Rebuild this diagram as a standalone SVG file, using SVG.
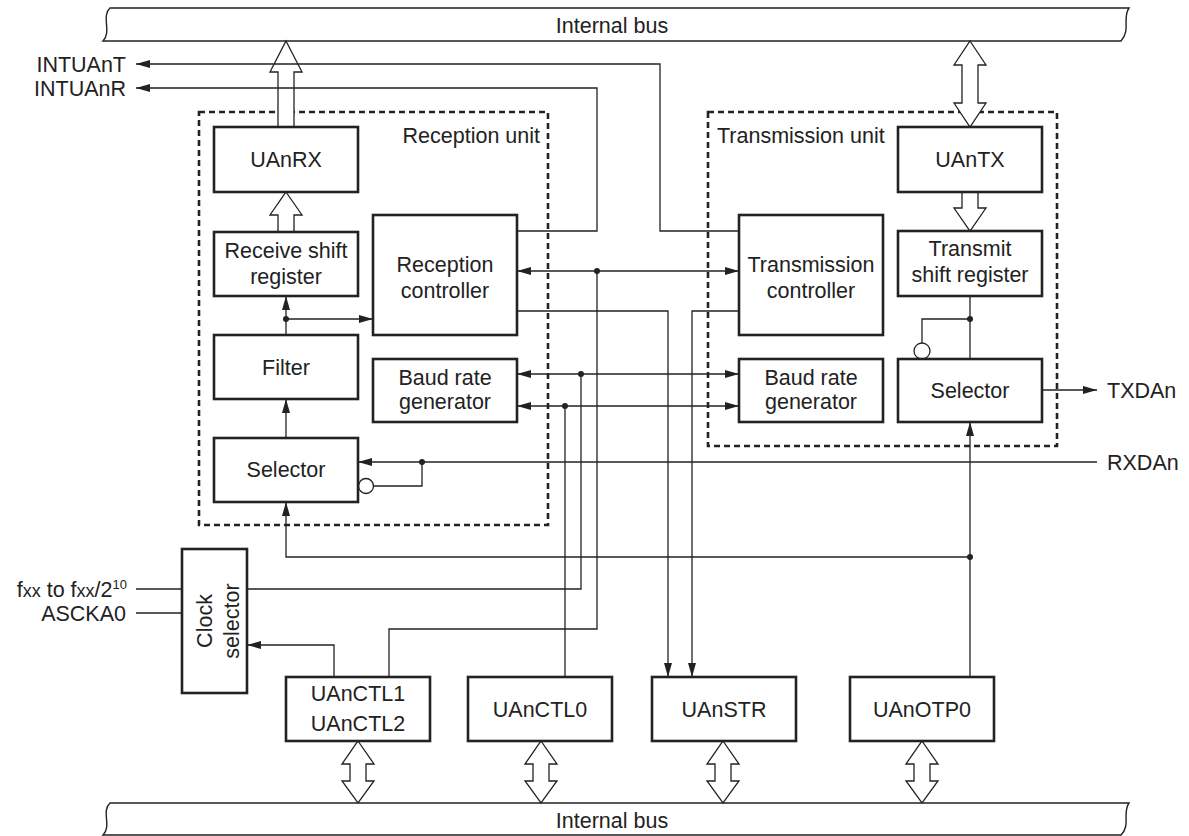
<svg xmlns="http://www.w3.org/2000/svg" xmlns:xlink="http://www.w3.org/1999/xlink" width="1189" height="836" viewBox="0 0 1189 836">
  <style>
    text { font-family: "Liberation Sans", Arial, Helvetica, sans-serif; font-size: 21.5px; fill: #222; }
    .box { fill: #fff; stroke: #222; stroke-width: 2.6; }
    .unit { fill: none; stroke: #222; stroke-width: 2.6; stroke-dasharray: 6 4; }
    .bus { fill: #fff; stroke: #222; stroke-width: 1.4; }
    .hollow { fill: #fff; stroke: #222; stroke-width: 1.3; stroke-linejoin: miter; }
    .wire { fill: none; stroke: #222; stroke-width: 1.3; }
    .dot { fill: #222; }
    .mid { text-anchor: middle; }
  </style>
  <defs>
    <marker id="ah" markerUnits="userSpaceOnUse" markerWidth="16" markerHeight="10" refX="14" refY="4" orient="auto-start-reverse">
      <path d="M0,0 L14,4 L0,8 Z" fill="#222"/>
    </marker>
    <path id="dbl" d="M0,0 L16,23 L8,23 L8,40 L16,40 L0,62 L-16,40 L-8,40 L-8,23 L-16,23 Z"/>
  </defs>

  <rect width="1189" height="836" fill="#fff"/>

  <!-- internal buses -->
  <g id="bus-top">
    <path class="bus" d="M110,8 L1129,8 C1122,18 1131,30 1121,41 L103,41 C112,32 101,16 110,8 Z"/>
    <text x="612" y="33" class="mid">Internal bus</text>
  </g>
  <g id="bus-bottom">
    <path class="bus" d="M110,803 L1129,803 C1122,813 1131,825 1121,835 L103,835 C112,826 101,811 110,803 Z"/>
    <text x="612" y="828" class="mid">Internal bus</text>
  </g>

  <!-- unit outlines -->
  <g id="reception-unit">
    <rect class="unit" x="199" y="112" width="349" height="413"/>
    <text x="540" y="143" text-anchor="end">Reception unit</text>
  </g>
  <g id="transmission-unit">
    <rect class="unit" x="708" y="112" width="349" height="334"/>
    <text x="717" y="143">Transmission unit</text>
  </g>

  <!-- bus transfer arrows -->
  <g id="bus-arrows">
    <path class="hollow" d="M286,41 L302,72 L294,72 L294,127 L278,127 L278,72 L270,72 Z"/>
    <path class="hollow" d="M286,192 L302,215 L294,215 L294,232 L278,232 L278,215 L270,215 Z"/>
    <path class="hollow" d="M970,41 L986,65 L978,65 L978,103 L986,103 L970,127 L954,103 L962,103 L962,65 L954,65 Z"/>
    <path class="hollow" d="M962,192 L978,192 L978,208 L986,208 L970,231 L954,208 L962,208 Z"/>
    <use xlink:href="#dbl" href="#dbl" class="hollow" x="358" y="741"/>
    <use xlink:href="#dbl" href="#dbl" class="hollow" x="541" y="741"/>
    <use xlink:href="#dbl" href="#dbl" class="hollow" x="723" y="741"/>
    <use xlink:href="#dbl" href="#dbl" class="hollow" x="922" y="741"/>
  </g>

  <!-- blocks -->
  <g id="uanrx">
    <rect class="box" x="214" y="127" width="144" height="65"/>
    <text x="286" y="167" class="mid">UAnRX</text>
  </g>
  <g id="receive-shift-register">
    <rect class="box" x="214" y="232" width="144" height="64"/>
    <text x="286" y="258" class="mid">Receive shift</text>
    <text x="286" y="284" class="mid">register</text>
  </g>
  <g id="reception-controller">
    <rect class="box" x="373" y="215" width="144" height="120"/>
    <text x="445" y="272" class="mid">Reception</text>
    <text x="445" y="298" class="mid">controller</text>
  </g>
  <g id="filter">
    <rect class="box" x="214" y="335" width="144" height="64"/>
    <text x="286" y="375" class="mid">Filter</text>
  </g>
  <g id="rx-baud-rate-generator">
    <rect class="box" x="373" y="359" width="144" height="63"/>
    <text x="445" y="385" class="mid">Baud rate</text>
    <text x="445" y="409" class="mid">generator</text>
  </g>
  <g id="rx-selector">
    <rect class="box" x="214" y="438" width="144" height="64"/>
    <text x="286" y="477" class="mid">Selector</text>
  </g>
  <g id="uantx">
    <rect class="box" x="898" y="127" width="144" height="65"/>
    <text x="970" y="167" class="mid">UAnTX</text>
  </g>
  <g id="transmit-shift-register">
    <rect class="box" x="898" y="231" width="144" height="65"/>
    <text x="970" y="256" class="mid">Transmit</text>
    <text x="970" y="282" class="mid">shift register</text>
  </g>
  <g id="transmission-controller">
    <rect class="box" x="739" y="215" width="144" height="120"/>
    <text x="811" y="272" class="mid">Transmission</text>
    <text x="811" y="298" class="mid">controller</text>
  </g>
  <g id="tx-baud-rate-generator">
    <rect class="box" x="739" y="359" width="144" height="63"/>
    <text x="811" y="385" class="mid">Baud rate</text>
    <text x="811" y="409" class="mid">generator</text>
  </g>
  <g id="tx-selector">
    <rect class="box" x="898" y="359" width="144" height="63"/>
    <text x="970" y="398" class="mid">Selector</text>
  </g>
  <g id="clock-selector">
    <rect class="box" x="182" y="549" width="65" height="144"/>
    <text transform="translate(212,621) rotate(-90)" class="mid">Clock</text>
    <text transform="translate(239,621) rotate(-90)" class="mid">selector</text>
  </g>
  <g id="uanctl1-2">
    <rect class="box" x="286" y="677" width="144" height="64"/>
    <text x="358" y="701" class="mid">UAnCTL1</text>
    <text x="358" y="731" class="mid">UAnCTL2</text>
  </g>
  <g id="uanctl0">
    <rect class="box" x="468" y="677" width="144" height="64"/>
    <text x="540" y="717" class="mid">UAnCTL0</text>
  </g>
  <g id="uanstr">
    <rect class="box" x="652" y="677" width="144" height="64"/>
    <text x="724" y="717" class="mid">UAnSTR</text>
  </g>
  <g id="uanotp0">
    <rect class="box" x="850" y="677" width="144" height="64"/>
    <text x="922" y="717" class="mid">UAnOTP0</text>
  </g>

  <!-- external signal labels -->
  <g id="signals">
    <text x="126" y="72" text-anchor="end">INTUAnT</text>
    <text x="126" y="96" text-anchor="end">INTUAnR</text>
    <text x="127" y="597" text-anchor="end">f<tspan font-size="18">xx</tspan> to f<tspan font-size="18">xx</tspan>/2<tspan font-size="13" dy="-8">10</tspan></text>
    <text x="126" y="621" text-anchor="end">ASCKA0</text>
    <text x="1107" y="398">TXDAn</text>
    <text x="1107" y="470">RXDAn</text>
  </g>

  <!-- connectors -->
  <g id="connectors">
    <polyline class="wire" points="739,231 660,231 660,64 136,64" marker-end="url(#ah)"/>
    <polyline class="wire" points="517,231 597,231 597,88 136,88" marker-end="url(#ah)"/>
    <line class="wire" x1="517" y1="271" x2="739" y2="271" marker-start="url(#ah)" marker-end="url(#ah)"/>
    <polyline class="wire" points="597,271 597,629 389,629 389,677"/>
    <line class="wire" x1="517" y1="374" x2="739" y2="374" marker-start="url(#ah)" marker-end="url(#ah)"/>
    <line class="wire" x1="517" y1="406" x2="739" y2="406" marker-start="url(#ah)" marker-end="url(#ah)"/>
    <polyline class="wire" points="581,374 581,589 247,589"/>
    <line class="wire" x1="565" y1="406" x2="565" y2="677"/>
    <polyline class="wire" points="517,311 668,311 668,677" marker-end="url(#ah)"/>
    <polyline class="wire" points="739,311 692,311 692,677" marker-end="url(#ah)"/>
    <line class="wire" x1="970" y1="677" x2="970" y2="422" marker-end="url(#ah)"/>
    <polyline class="wire" points="970,557 286,557 286,502" marker-end="url(#ah)"/>
    <line class="wire" x1="1097" y1="462" x2="358" y2="462" marker-end="url(#ah)"/>
    <polyline class="wire" points="422,462 422,486 374,486"/>
    <circle class="wire" cx="366" cy="486" r="7.5" fill="#fff"/>
    <line class="wire" x1="1042" y1="390" x2="1097" y2="390" marker-end="url(#ah)"/>
    <line class="wire" x1="970" y1="296" x2="970" y2="359"/>
    <polyline class="wire" points="970,319 922,319 922,343"/>
    <circle class="wire" cx="922" cy="351" r="8" fill="#fff"/>
    <line class="wire" x1="286" y1="335" x2="286" y2="296" marker-end="url(#ah)"/>
    <line class="wire" x1="286" y1="319" x2="373" y2="319" marker-end="url(#ah)"/>
    <line class="wire" x1="286" y1="438" x2="286" y2="399" marker-end="url(#ah)"/>
    <line class="wire" x1="136" y1="589" x2="182" y2="589"/>
    <line class="wire" x1="136" y1="613" x2="182" y2="613"/>
    <polyline class="wire" points="334,677 334,645 247,645" marker-end="url(#ah)"/>
    <circle class="dot" cx="597" cy="271" r="3"/>
    <circle class="dot" cx="581" cy="374" r="3"/>
    <circle class="dot" cx="565" cy="406" r="3"/>
    <circle class="dot" cx="970" cy="557" r="3"/>
    <circle class="dot" cx="422" cy="462" r="3"/>
    <circle class="dot" cx="970" cy="319" r="3"/>
    <circle class="dot" cx="286" cy="319" r="3"/>
  </g>
</svg>
